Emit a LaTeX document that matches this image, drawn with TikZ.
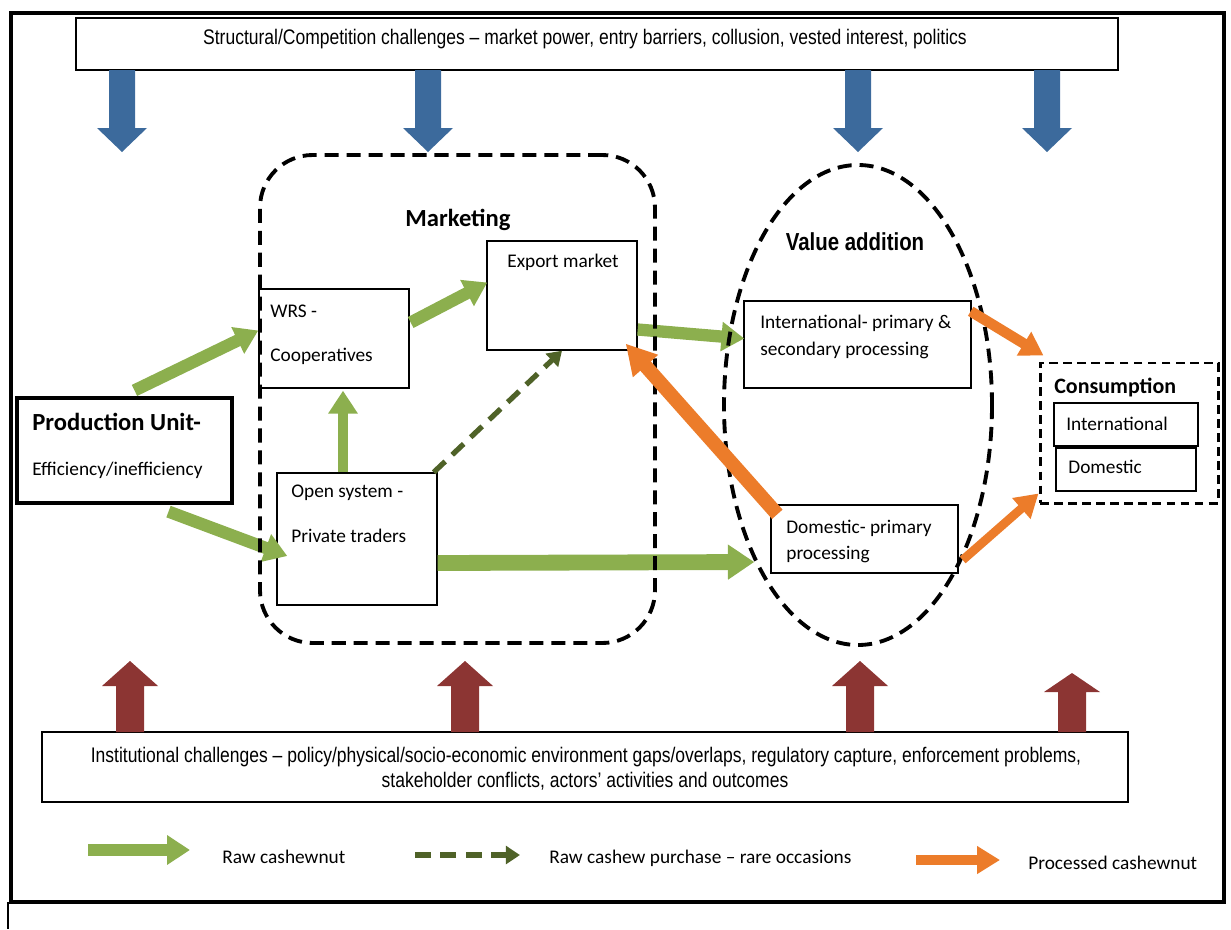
\documentclass[tikz,border=0pt]{standalone}
\usepackage{fontspec}
\setmainfont{Carlito}
\newfontfamily\narrowfont[FakeStretch=0.83]{Liberation Sans}
\usetikzlibrary{arrows.meta,fit,positioning}

\definecolor{rawgreen}{HTML}{8CAF4E}
\definecolor{rawdark}{HTML}{4F6228}
\definecolor{procorange}{HTML}{EC7C2A}
\definecolor{blueedge}{HTML}{3C6A9C}
\definecolor{bluemid}{HTML}{5B8FD0}
\definecolor{rededge}{HTML}{8C3533}
\definecolor{redmid}{HTML}{C9554F}

\tikzset{
  box/.style={draw,line width=0.8pt,inner sep=0pt,fill=white},
  txt/.style={inner sep=0pt,font=\fontsize{11}{13}\selectfont},
  narrowtxt/.style={inner sep=0pt,font=\narrowfont\fontsize{12}{14}\selectfont},
  headtxt/.style={inner sep=0pt,font=\bfseries\fontsize{14}{16}\selectfont},
  rawflow/.style={draw=rawgreen,line width=7pt,-{Triangle[length=13pt,width=16pt]}},
  rareflow/.style={draw=rawdark,line width=3pt,dash pattern=on 9pt off 5.5pt,-{Triangle[length=8pt,width=10pt]}},
  procflow/.style={draw=procorange,line width=6pt,-{Triangle[length=13pt,width=15pt]}},
  container/.style={draw,line width=2.2pt,dash pattern=on 8pt off 4.5pt,inner sep=0pt},
  bluearrow/.style={left color=blueedge,middle color=bluemid,right color=blueedge},
  redarrow/.style={left color=rededge,middle color=redmid,right color=rededge},
}

\begin{document}
\begin{tikzpicture}[x=0.2mm,y=-0.2mm,line join=miter]
\useasboundingbox (0,0) rectangle (1231,929);

% outer frame
\draw[line width=2.6pt] (11,13) rectangle (1224,902);
\draw[line width=1pt] (8,902) -- (8,929);

% challenge boxes
\node[box,fit={(76,18) (1118,70)}] (struct) {};
\node[narrowtxt,anchor=base] (structT) at (585,44) {Structural/Competition challenges – market power, entry barriers, collusion, vested interest, politics};

\node[box,fit={(42,732) (1128,802)}] (inst) {};
\node[narrowtxt,anchor=base] (instA) at (586,762) {Institutional challenges – policy/physical/socio-economic environment gaps/overlaps, regulatory capture, enforcement problems,};
\node[narrowtxt,anchor=base] (instB) at (585,787) {stakeholder conflicts, actors’ activities and outcomes};

% blue arrows down
\foreach \c in {122,428,858,1047}
  \path[bluearrow] (\c-13,70) -- (\c+13,70) -- (\c+13,128) -- (\c+25,128) -- (\c,152) -- (\c-25,128) -- (\c-13,128) -- cycle;

% red arrows up
\foreach \c/\t/\b in {130/661/686,465/661/686,860/661/686,1072/673/692}
  \path[redarrow] (\c-14,732) -- (\c+14,732) -- (\c+14,\b) -- (\c+28,\b) -- (\c,\t) -- (\c-28,\b) -- (\c-14,\b) -- cycle;

% production unit
\node[box,line width=1.8pt,fit={(17,398) (232,503)}] (prod) {};
\node[headtxt,anchor=base west] (prodA) at (32,430) {Production Unit-};
\node[txt,anchor=base west] (prodB) at (32,475) {Efficiency/inefficiency};

% marketing boxes
\node[box,fit={(259,289) (409,388)}] (wrs) {};
\node[txt,anchor=base west] (wrsA) at (270,317) {WRS -};
\node[txt,anchor=base west] (wrsB) at (270,361) {Cooperatives};

\node[box,fit={(487,241) (637,350)}] (export) {};
\node[txt,anchor=base] (exportA) at (563,267) {Export market};

\node[box,fit={(277,473) (437,605)}] (open) {};
\node[txt,anchor=base west] (openA) at (291,497) {Open system -};
\node[txt,anchor=base west] (openB) at (291,542) {Private traders};

% value addition boxes
\node[box,fit={(744,301) (971,388)}] (intl) {};
\node[txt,anchor=base west] (intlA) at (760,328) {International- primary \&};
\node[txt,anchor=base west] (intlB) at (760,355) {secondary processing};

\node[box,fit={(771,505) (958,573)}] (dom) {};
\node[txt,anchor=base west] (domA) at (786,533) {Domestic- primary};
\node[txt,anchor=base west] (domB) at (786,559) {processing};

% consumption
\node[draw,line width=1.7pt,dash pattern=on 5pt off 3pt,inner sep=0pt,fit={(1040,363) (1218,503)}] (cons) {};
\node[inner sep=0pt,font=\bfseries\fontsize{12.5}{15}\selectfont,anchor=base west] (consT) at (1054,393) {Consumption};
\node[box,fit={(1054,403) (1198,446)}] (consI) {};
\node[txt,anchor=base west] (consIT) at (1066,430) {International};
\node[box,fit={(1056,448) (1196,491)}] (consD) {};
\node[txt,anchor=base west] (consDT) at (1068,473) {Domestic};

% raw cashew flows
\draw[rawflow] ([shift={(10,-6)}]prod.north) -- ([shift={(0,-8)}]wrs.west);
\draw[rawflow] ([shift={(1,-16)}]wrs.east) -- ([shift={(1,-13)}]export.west);
\draw[rawflow] ([shift={(44,7)}]prod.south) -- ([shift={(11,17)}]open.west);
\draw[rawflow,line width=6pt] ([shift={(-14,0)}]open.north) -- ([shift={(9,2)}]wrs.south);
\draw[rawflow] ([shift={(0,34)}]export.east) -- ([shift={(1,-6)}]intl.west);
\draw[rawflow,line width=9pt,-{Triangle[length=15pt,width=19pt]}] ([shift={(0,24)}]open.east) -- ([shift={(-16,23)}]dom.west);
\draw[rareflow] ([shift={(-4,0)}]open.north east) -- (export.south);

% containers
\node[container,rounded corners=30pt,fit={(260,155) (655,643)}] (mkt) {};
\node[headtxt,anchor=base] (mktT) at (458,226) {Marketing};
\draw[line width=2.2pt,dash pattern=on 8pt off 4.5pt] (858,405) ellipse [x radius=134,y radius=240];
\node[inner sep=0pt,font=\narrowfont\bfseries\fontsize{14}{16}\selectfont,anchor=base] (vaT) at (855,250) {Value addition};

% processed cashew flows
\draw[procflow,line width=8pt,-{Triangle[length=17pt,width=18pt]}] ([shift={(7,10)}]dom.north west) -- ([shift={(-12,-7)}]export.south east);
\draw[procflow] ([shift={(-1,11)}]intl.north east) -- ([shift={(5,-6)}]cons.north west);
\draw[procflow,line width=5pt] ([shift={(4,21)}]dom.east) -- ([shift={(0,-11)}]cons.south west);

% legend
\coordinate (legRawA) at (88,850);
\coordinate (legRawB) at (190,850);
\coordinate (legRareA) at (415,855);
\coordinate (legRareB) at (520,855);
\coordinate (legProcA) at (916,860);
\coordinate (legProcB) at (1000,860);
\draw[rawflow] (legRawA) -- (legRawB);
\draw[rareflow] (legRareA) -- (legRareB);
\draw[procflow] (legProcA) -- (legProcB);
\node[txt,anchor=base west] (legRawT) at (222,863) {Raw cashewnut};
\node[txt,anchor=base west] (legRareT) at (549,863) {Raw cashew purchase – rare occasions};
\node[txt,anchor=base west] (legProcT) at (1028,869) {Processed cashewnut};

\end{tikzpicture}
\end{document}
